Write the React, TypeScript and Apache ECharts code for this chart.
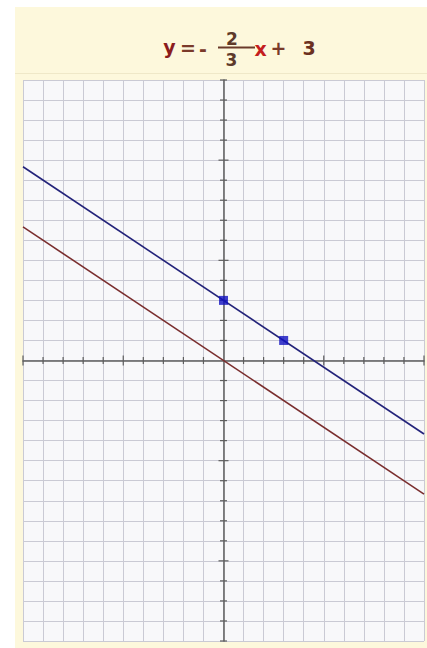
import React, { useEffect, useRef } from "react";
import * as echarts from "echarts";

// Data
const xRange = [-10, 10];
const yRange = [-14, 14];
const blueLine = [[-10, 9.67], [10, -3.67]]; // y = -2/3 x + 3
const brownLine = [[-10, 6.67], [10, -6.67]]; // y = -2/3 x
const bluePoints = [[0, 3], [3, 1]];
const xTickValues = [-10, -9, -8, -7, -6, -5, -4, -3, -2, -1, 1, 2, 3, 4, 5, 6, 7, 8, 9, 10];
const yTickValues = [-14, -13, -12, -11, -10, -9, -8, -7, -6, -5, -4, -3, -2, -1, 1, 2, 3, 4, 5, 6, 7, 8, 9, 10, 11, 12, 13, 14];

const OX = 15;
const OY = 7;

export default function App() {
  const ref = useRef<HTMLDivElement>(null);
  useEffect(() => {
    if (!ref.current) return;
    const chart = echarts.init(ref.current, undefined, { renderer: "svg" });
    const tickData = [
      ...xTickValues.map((v) => [v, 0, 0]),
      ...yTickValues.map((v) => [0, v, 1]),
    ];
    const font = "'DejaVu Sans', Verdana, sans-serif";
    const txt = (s: string, cx: number, cy: number, color: string, size = 19) => ({
      type: "text",
      x: cx - OX,
      y: cy - OY,
      style: {
        text: s,
        fill: color,
        font: `bold ${size}px ${font}`,
        textAlign: "center",
        textVerticalAlign: "middle",
      },
    });
    const option: any = {
      animation: false,
      backgroundColor: "#fdf8dc",
      graphic: [
        txt("y", 169.5, 47, "#8b1c1c"),
        txt("=", 188, 48, "#7a3a2a"),
        txt("-", 203, 49, "#7a3a2a"),
        txt("2", 232, 39, "#5e3a2a", 17),
        {
          type: "rect",
          shape: { x: 218 - OX, y: 46.5 - OY, width: 37, height: 2 },
          style: { fill: "#6a3a2a" },
        },
        txt("3", 231.5, 59.5, "#5e3a2a", 17),
        txt("x", 260.5, 49, "#c41e1e"),
        txt("+", 278.5, 48, "#7a3a2a"),
        txt("3", 309, 48, "#6b3020"),
        {
          type: "line",
          shape: { x1: 0, y1: 73.5 - OY, x2: 412, y2: 73.5 - OY },
          style: { stroke: "#efe8c8", lineWidth: 1 },
        },
      ],
      grid: {
        left: 8,
        top: 73,
        width: 401,
        height: 561,
        show: true,
        backgroundColor: "#f8f8fa",
        borderWidth: 0,
      },
      xAxis: {
        type: "value",
        min: xRange[0],
        max: xRange[1],
        interval: 1,
        axisLine: { onZero: true, lineStyle: { color: "#5e5e5e", width: 1.5 } },
        axisTick: { show: false },
        axisLabel: { show: false },
        splitLine: { show: true, lineStyle: { color: "#cacad4", width: 1 } },
      },
      yAxis: {
        type: "value",
        min: yRange[0],
        max: yRange[1],
        interval: 1,
        axisLine: { onZero: true, lineStyle: { color: "#5e5e5e", width: 1.5 } },
        axisTick: { show: false },
        axisLabel: { show: false },
        splitLine: { show: true, lineStyle: { color: "#cacad4", width: 1 } },
      },
      series: [
        {
          type: "custom",
          clip: false,
          z: 2,
          data: tickData,
          encode: { x: 0, y: 1 },
          renderItem: (params: any, api: any) => {
            const x = api.value(0);
            const y = api.value(1);
            const dir = api.value(2);
            const p = api.coord([x, y]);
            const v = dir === 0 ? x : y;
            const h = v % 5 === 0 ? 5 : 3.5;
            const shape =
              dir === 0
                ? { x1: p[0], y1: p[1] - h, x2: p[0], y2: p[1] + h }
                : { x1: p[0] - h, y1: p[1], x2: p[0] + h, y2: p[1] };
            return {
              type: "line",
              shape,
              style: { stroke: "#5e5e5e", lineWidth: 1.2 },
            };
          },
        },
        {
          type: "line",
          z: 3,
          data: brownLine,
          showSymbol: false,
          lineStyle: { color: "#7a2e2e", width: 1.6 },
        },
        {
          type: "line",
          z: 3,
          data: blueLine,
          showSymbol: false,
          lineStyle: { color: "#23237a", width: 1.6 },
        },
        {
          type: "scatter",
          z: 4,
          data: bluePoints,
          symbol: "rect",
          symbolSize: 9,
          itemStyle: { color: "#1010c0" },
        },
      ],
    };
    chart.setOption(option);
    return () => chart.dispose();
  }, []);
  return (
    <div style={{ position: "fixed", left: 0, top: 0, width: 427, height: 648, background: "#ffffff" }}>
      <div ref={ref} style={{ position: "absolute", left: OX, top: OY, width: 412, height: 641 }} />
    </div>
  );
}
